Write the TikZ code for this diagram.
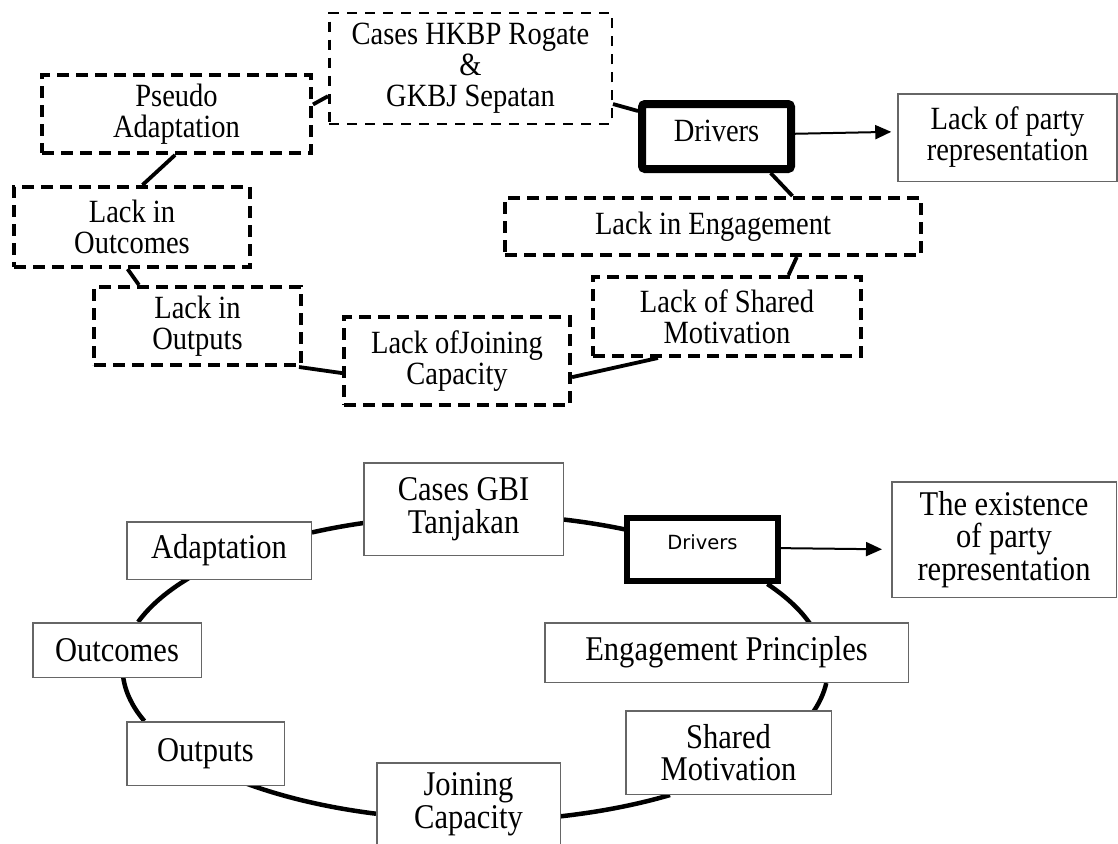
\documentclass[tikz,border=0pt]{standalone}
\usepackage{fontspec}
\setmainfont{Liberation Serif}[FakeStretch=0.88]
\newfontfamily\drvfont{DejaVu Sans}
\usetikzlibrary{arrows.meta,backgrounds}
\begin{document}
\begin{tikzpicture}[x=1pt,y=1pt,
  tfont/.style={font=\fontsize{32.4}{31}\selectfont},
  bfont/.style={font=\fontsize{34.7}{32.5}\selectfont},
  dbox/.style={draw, fill=white, align=center, inner sep=0pt, tfont,
    line width=4pt, dash pattern=on 12pt off 7pt},
  cbox/.style={draw, fill=white, align=center, inner sep=0pt, tfont,
    line width=2.5pt, dash pattern=on 10pt off 8pt},
  drvtop/.style={draw, fill=white, align=center, inner sep=0pt, tfont,
    line width=8pt, rounded corners=3pt},
  gbox/.style={draw=black!60, fill=white, align=center, inner sep=0pt, line width=1.5pt},
  drvbot/.style={draw, fill=white, align=center, inner sep=0pt, line width=6pt,
    font=\drvfont\fontsize{19.5}{22}\selectfont},
  tline/.style={line width=3.8pt},
  ring/.style={line width=4.5pt},
  ell/.style={x radius=351pt, y radius=153pt},
  arr/.style={line width=2pt, -{Triangle[length=16pt,width=14pt]}}
]
\useasboundingbox (0,0) rectangle (1118,-843);
\clip (0,0) rectangle (1118,-843);

% ---------- top diagram ----------
\node[cbox, minimum width=282.5pt, minimum height=110.5pt] (cases) at (470.5,-68.5) {Cases HKBP Rogate\\\&\\GKBJ Sepatan};
\node[dbox, minimum width=269pt, minimum height=78pt] (pseudo) at (176.5,-114) {Pseudo\\Adaptation};
\node[drvtop, minimum width=149pt, minimum height=65pt, text height=21pt, text depth=12pt] (drivers1) at (716.5,-136.5) {Drivers};
\node[gbox, tfont, minimum width=219pt, minimum height=87.5pt] (party1) at (1007.5,-137.5) {Lack of party\\representation};
\node[dbox, minimum width=236pt, minimum height=80pt] (outcomes1) at (132,-227) {Lack in\\Outcomes};
\node[dbox, minimum width=416pt, minimum height=57pt] (engage1) at (713,-226.5) {Lack in Engagement};
\node[dbox, minimum width=207pt, minimum height=78pt] (outputs1) at (197.5,-326) {Lack in\\Outputs};
\node[dbox, minimum width=268pt, minimum height=79pt] (shared1) at (727,-316.5) {Lack of Shared\\Motivation};
\node[dbox, minimum width=226pt, minimum height=88pt] (joining1) at (457,-361) {Lack ofJoining\\Capacity};

\begin{scope}[on background layer]
\draw[tline] (pseudo.4.6) -- (cases.191.7);
\draw[tline] (cases.346.8) -- (drivers1.162.7);
\draw[tline] (drivers1.326.7) -- (engage1.21.5);
\draw[tline] (engage1.340) -- (shared1.34.2);
\draw[tline] (shared1.211.2) -- (joining1.352.6);
\draw[tline] (joining1.186) -- (outputs1.338.1);
\draw[tline] (outputs1.145.4) -- (outcomes1.264.7);
\draw[tline] (outcomes1.76.6) -- (pseudo.268);
\end{scope}
\draw[arr, shorten >=6pt] (drivers1.2.55) -- (party1.177.6);

% ---------- bottom diagram ----------
\node[gbox, bfont, minimum width=199.5pt, minimum height=92.5pt] (gbi) at (463.5,-509) {Cases GBI\\Tanjakan};
\node[gbox, bfont, minimum width=184.5pt, minimum height=57.5pt] (adapt) at (219,-550.5) {Adaptation};
\node[gbox, bfont, minimum width=168.5pt, minimum height=54.5pt] (outcomes2) at (117,-650) {Outcomes};
\node[gbox, bfont, minimum width=157.5pt, minimum height=63.5pt] (outputs2) at (205.5,-753.5) {Outputs};
\node[gbox, bfont, minimum width=183.5pt, minimum height=82.5pt] (joining2) at (468.5,-804) {Joining\\Capacity};
\node[drvbot, minimum width=151pt, minimum height=63pt, text height=15pt, text depth=16pt] (drivers2) at (702.5,-549.5) {Drivers};
\node[gbox, bfont, minimum width=363.5pt, minimum height=59.5pt] (engage2) at (726.5,-652.5) {Engagement Principles};
\node[gbox, bfont, minimum width=205.5pt, minimum height=83.5pt] (shared2) at (728.5,-752.5) {Shared\\Motivation};
\node[gbox, bfont, minimum width=224.5pt, minimum height=115.5pt] (exist) at (1004,-539.5) {The existence\\of party\\representation};

\begin{scope}[on background layer]
\draw[ring] (adapt.11.25) arc[start angle=117.3, end angle=106.3, ell];
\draw[ring] (gbi.-6.36) arc[start angle=75, end angle=62.5, ell];
\draw[ring] (drivers2.-28.4) arc[start angle=33.3, end angle=15.5, ell];
\draw[ring] (engage2.-17.66) arc[start angle=-5.6, end angle=-17.9, ell];
\draw[ring] (shared2.-144.55) arc[start angle=-56.1, end angle=-77.5, ell];
\draw[ring] (joining2.186.78) arc[start angle=-106, end angle=-131.6, ell];
\draw[ring] (outputs2.152.26) arc[start angle=200.3, end angle=181.7, ell];
\draw[ring] (outcomes2.53.13) arc[start angle=162.5, end angle=142.9, ell];
\end{scope}
\draw[arr, shorten >=9pt] (drivers2.1.1) -- (exist.185.3);
\end{tikzpicture}
\end{document}
